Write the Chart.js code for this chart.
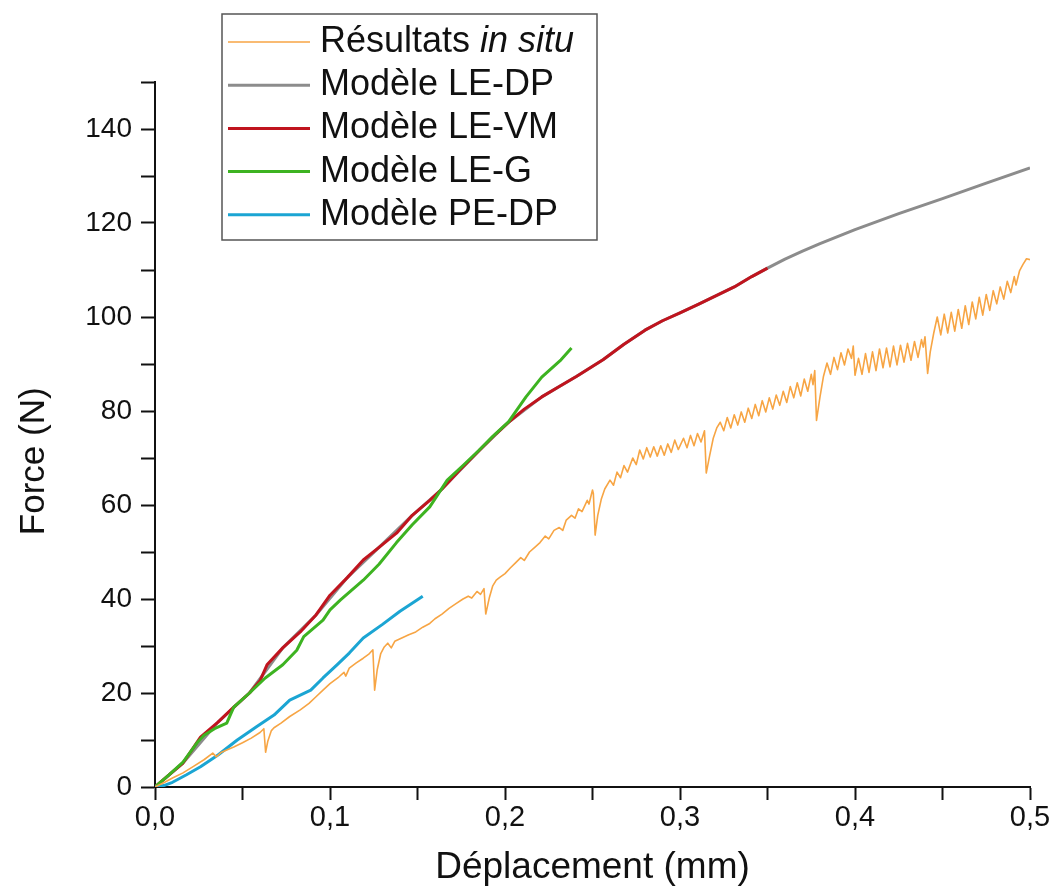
<!DOCTYPE html>
<html>
<head>
<meta charset="utf-8">
<script src="https://cdn.jsdelivr.net/npm/chart.js@4.4.0/dist/chart.umd.min.js"></script>
<style>
  html, body { margin: 0; padding: 0; background: #ffffff; }
  #wrap { width: 1052px; height: 896px; position: relative; }
</style>
</head>
<body>
<div id="wrap"><canvas id="c" width="1052" height="896"></canvas></div>
<script>
// ---------------- Data ----------------
const SERIES_NAMES = ['Résultats in situ', 'Modèle LE-DP', 'Modèle LE-VM', 'Modèle LE-G', 'Modèle PE-DP'];
const SERIES_COLORS = ['#F7A544', '#8C8C8C', '#C0141E', '#3DB321', '#1BA5D3'];

const X_TICK_LABELS = ['0,0', '0,1', '0,2', '0,3', '0,4', '0,5'];
const Y_TICK_LABELS = ['0', '20', '40', '60', '80', '100', '120', '140'];

// Résultats in situ (orange)
const INSITU_X = [0, 0.005, 0.010, 0.016, 0.022, 0.028, 0.033, 0.035, 0.038, 0.045, 0.050, 0.055, 0.060, 0.0622, 0.0632, 0.0645, 0.0665, 0.068, 0.072, 0.077, 0.083, 0.088, 0.092, 0.096, 0.100, 0.105, 0.108, 0.109, 0.111, 0.115, 0.119, 0.122, 0.1245, 0.1255, 0.127, 0.129, 0.131, 0.133, 0.135, 0.137, 0.141, 0.145, 0.149, 0.153, 0.157, 0.160, 0.164, 0.168, 0.172, 0.176, 0.179, 0.181, 0.184, 0.186, 0.188, 0.189, 0.191, 0.193, 0.195, 0.197, 0.200, 0.203, 0.206, 0.209, 0.211, 0.214, 0.217, 0.220, 0.223, 0.225, 0.228, 0.231, 0.233, 0.235, 0.238, 0.240, 0.242, 0.244, 0.247, 0.248, 0.250, 0.2505, 0.2515, 0.253, 0.255, 0.257, 0.260, 0.262, 0.264, 0.266, 0.268, 0.270, 0.273, 0.275, 0.277, 0.279, 0.281, 0.283, 0.285, 0.287, 0.289, 0.291, 0.293, 0.295, 0.297, 0.299, 0.302, 0.304, 0.306, 0.308, 0.310, 0.312, 0.314, 0.315, 0.317, 0.319, 0.321, 0.323, 0.325, 0.327, 0.329, 0.331, 0.333, 0.335, 0.337, 0.339, 0.341, 0.343, 0.345, 0.347, 0.349, 0.351, 0.353, 0.355, 0.357, 0.359, 0.361, 0.363, 0.365, 0.367, 0.369, 0.371, 0.373, 0.375, 0.376, 0.377, 0.378, 0.380, 0.382, 0.384, 0.386, 0.388, 0.390, 0.392, 0.394, 0.396, 0.398, 0.399, 0.400, 0.402, 0.404, 0.406, 0.408, 0.410, 0.412, 0.414, 0.416, 0.418, 0.420, 0.422, 0.424, 0.426, 0.428, 0.430, 0.432, 0.434, 0.436, 0.438, 0.439, 0.440, 0.4415, 0.443, 0.445, 0.447, 0.449, 0.451, 0.453, 0.455, 0.457, 0.459, 0.461, 0.463, 0.465, 0.467, 0.469, 0.471, 0.473, 0.475, 0.477, 0.479, 0.481, 0.483, 0.485, 0.487, 0.489, 0.491, 0.492, 0.494, 0.496, 0.498, 0.500];
const INSITU_Y = [0, 0.9, 1.9, 3.0, 4.4, 5.8, 7.2, 6.4, 7.4, 8.5, 9.4, 10.4, 11.6, 12.4, 7.4, 9.8, 12.0, 12.6, 13.6, 15.0, 16.4, 17.8, 19.2, 20.6, 22.0, 23.4, 24.4, 23.6, 25.3, 26.4, 27.4, 28.2, 29.2, 20.6, 25.0, 28.4, 29.8, 30.6, 29.6, 31.0, 31.7, 32.4, 33.0, 34.0, 34.8, 35.8, 36.8, 38.0, 39.0, 40.0, 40.6, 40.2, 41.6, 41.0, 42.2, 36.8, 40.2, 42.8, 44.0, 44.6, 45.4, 46.6, 47.7, 48.8, 48.2, 50.0, 51.0, 52.0, 53.4, 52.8, 54.6, 55.2, 54.6, 56.8, 57.8, 57.2, 59.2, 58.6, 61.0, 60.2, 63.2, 62.4, 53.6, 57.8, 61.2, 63.4, 65.3, 64.2, 67.0, 65.8, 68.4, 67.0, 70.0, 68.6, 71.7, 69.8, 72.2, 70.2, 72.4, 70.4, 72.6, 70.6, 73.0, 71.2, 73.8, 71.8, 74.2, 72.2, 74.8, 72.6, 75.2, 73.4, 75.8, 66.8, 70.6, 74.2, 76.4, 77.6, 75.8, 78.6, 76.4, 79.2, 77.0, 79.8, 77.6, 80.6, 78.4, 81.4, 79.0, 82.2, 79.8, 82.8, 80.4, 83.4, 81.2, 84.2, 81.8, 85.2, 82.8, 86.0, 83.2, 86.8, 84.2, 87.8, 85.6, 88.6, 78.0, 83.0, 87.4, 90.2, 87.8, 91.4, 88.8, 92.4, 89.8, 93.2, 91.2, 93.8, 87.6, 91.2, 87.8, 92.2, 88.2, 92.6, 88.6, 93.2, 89.2, 93.4, 89.4, 93.8, 89.8, 94.0, 90.4, 94.4, 90.8, 94.8, 91.4, 95.2, 93.6, 95.8, 88.0, 92.6, 96.6, 100.0, 96.2, 100.6, 96.6, 101.0, 97.0, 101.6, 97.6, 102.4, 98.4, 103.2, 99.6, 104.2, 100.4, 104.8, 101.4, 105.6, 102.8, 106.4, 103.8, 107.6, 105.2, 108.6, 106.8, 109.8, 111.2, 112.4, 112.2];

// Modèle LE-DP (grey)
const LEDP_X = [0, 0.016, 0.036, 0.054, 0.073, 0.092, 0.110, 0.128, 0.147, 0.164, 0.185, 0.202, 0.221, 0.241, 0.256, 0.268, 0.280, 0.290, 0.300, 0.311, 0.321, 0.331, 0.341, 0.350, 0.360, 0.370, 0.380, 0.390, 0.400, 0.425, 0.450, 0.475, 0.500];
const LEDP_Y = [0, 5.1, 13.8, 20.0, 29.6, 36.6, 44.6, 51.0, 57.8, 63.4, 71.5, 77.6, 83.0, 87.4, 90.9, 94.2, 97.2, 99.2, 100.9, 102.8, 104.6, 106.4, 108.6, 110.4, 112.3, 114.0, 115.6, 117.1, 118.6, 122.0, 125.2, 128.5, 131.7];

// Modèle LE-VM (red)
const LEVM_X = [0, 0.008, 0.016, 0.026, 0.036, 0.045, 0.054, 0.060, 0.064, 0.073, 0.083, 0.092, 0.100, 0.110, 0.119, 0.128, 0.138, 0.147, 0.157, 0.164, 0.174, 0.185, 0.195, 0.202, 0.211, 0.221, 0.231, 0.241, 0.256, 0.268, 0.280, 0.290, 0.300, 0.311, 0.321, 0.331, 0.341, 0.350];
const LEVM_Y = [0, 2.6, 5.1, 10.6, 13.8, 17.0, 20.0, 22.6, 26.0, 29.6, 33.0, 36.6, 40.8, 44.6, 48.3, 51.0, 54.0, 57.8, 61.0, 63.4, 67.4, 71.5, 75.2, 77.6, 80.4, 83.0, 85.2, 87.4, 90.9, 94.2, 97.2, 99.2, 100.9, 102.8, 104.6, 106.4, 108.6, 110.4];

// Modèle LE-G (green)
const LEG_X = [0, 0.008, 0.016, 0.024, 0.028, 0.034, 0.041, 0.045, 0.054, 0.063, 0.073, 0.081, 0.085, 0.096, 0.100, 0.106, 0.119, 0.128, 0.138, 0.147, 0.157, 0.167, 0.176, 0.185, 0.193, 0.202, 0.212, 0.221, 0.232, 0.238];
const LEG_Y = [0, 2.6, 5.3, 9.4, 11.0, 12.4, 13.6, 17.0, 20.0, 23.2, 26.0, 29.1, 32.0, 35.5, 37.7, 39.8, 44.0, 47.4, 52.0, 55.8, 59.6, 65.3, 68.4, 71.6, 74.6, 77.7, 83.0, 87.2, 90.9, 93.4];

// Modèle PE-DP (blue)
const PEDP_X = [0, 0.005, 0.010, 0.018, 0.026, 0.036, 0.047, 0.058, 0.068, 0.077, 0.089, 0.096, 0.104, 0.111, 0.119, 0.130, 0.140, 0.153];
const PEDP_Y = [0, 0.3, 1.0, 2.6, 4.3, 6.8, 10.0, 12.8, 15.3, 18.5, 20.6, 23.2, 26.0, 28.5, 31.7, 34.6, 37.4, 40.6];

// ---------------- Build chart ----------------
const FONT = "'Liberation Sans', Arial, Helvetica, sans-serif";
const toPts = (xs, ys) => xs.map((x, i) => ({ x: x, y: ys[i] }));

const SERIES = [
  { xs: INSITU_X, ys: INSITU_Y, width: 1.6, order: 0 },
  { xs: LEDP_X,   ys: LEDP_Y,   width: 3,   order: 4 },
  { xs: LEVM_X,   ys: LEVM_Y,   width: 3,   order: 3 },
  { xs: LEG_X,    ys: LEG_Y,    width: 3,   order: 2 },
  { xs: PEDP_X,   ys: PEDP_Y,   width: 3,   order: 1 }
];

const datasets = SERIES.map((s, i) => ({
  label: SERIES_NAMES[i],
  data: toPts(s.xs, s.ys),
  borderColor: SERIES_COLORS[i],
  backgroundColor: SERIES_COLORS[i],
  borderWidth: s.width,
  pointRadius: 0,
  tension: 0,
  borderJoinStyle: 'round',
  fill: false,
  order: s.order
}));

const ITALIC_PART = { 0: 'in situ' };

const legendPlugin = {
  id: 'boxLegend',
  afterDraw(chart) {
    const ctx = chart.ctx;
    const bx = 222, by = 14, bw = 375, bh = 226;
    ctx.save();
    ctx.fillStyle = '#ffffff';
    ctx.fillRect(bx, by, bw, bh);
    ctx.strokeStyle = '#555555';
    ctx.lineWidth = 1.5;
    ctx.strokeRect(bx, by, bw, bh);
    ctx.textBaseline = 'middle';
    ctx.fillStyle = '#111111';
    chart.data.datasets.forEach((ds, i) => {
      const y = 42 + i * 43.2;
      ctx.strokeStyle = ds.borderColor;
      ctx.lineWidth = i === 0 ? 1.6 : 3;
      ctx.beginPath();
      ctx.moveTo(228, y);
      ctx.lineTo(310, y);
      ctx.stroke();
      ctx.font = '36px ' + FONT;
      const it = ITALIC_PART[i];
      if (it && ds.label.endsWith(it)) {
        const normal = ds.label.slice(0, ds.label.length - it.length);
        ctx.fillText(normal, 320, y);
        const w = ctx.measureText(normal).width;
        ctx.font = 'italic 36px ' + FONT;
        ctx.fillText(it, 320 + w, y);
      } else {
        ctx.fillText(ds.label, 320, y);
      }
    });
    ctx.restore();
  }
};

const yTitlePlugin = {
  id: 'yTitle',
  afterDraw(chart) {
    const ctx = chart.ctx;
    const a = chart.chartArea;
    ctx.save();
    ctx.translate(34, a.top + (a.bottom - a.top) * 0.538);
    ctx.rotate(-Math.PI / 2);
    ctx.font = '35px ' + FONT;
    ctx.fillStyle = '#111111';
    ctx.textAlign = 'center';
    ctx.textBaseline = 'middle';
    ctx.fillText('Force (N)', 0, 0);
    ctx.restore();
  }
};

new Chart(document.getElementById('c'), {
  type: 'line',
  data: { datasets: datasets },
  plugins: [legendPlugin, yTitlePlugin],
  options: {
    responsive: false,
    animation: false,
    devicePixelRatio: 1,
    layout: { padding: { top: 82, right: 22, left: 0, bottom: 0 } },
    plugins: { legend: { display: false }, tooltip: { enabled: false } },
    scales: {
      x: {
        type: 'linear',
        min: 0, max: 0.5,
        afterFit(scale) { scale.height = 109; },
        border: { display: true, color: '#111111', width: 2 },
        grid: { drawOnChartArea: false, drawTicks: true, tickLength: 13, tickWidth: 2, tickColor: '#111111' },
        ticks: {
          stepSize: 0.05,
          autoSkip: false,
          maxRotation: 0,
          padding: 1,
          color: '#111111',
          font: { family: FONT, size: 29 },
          callback(v) {
            const k = Math.round(v * 10);
            if (Math.abs(v * 10 - k) > 1e-6) return '';
            return X_TICK_LABELS[k] !== undefined ? X_TICK_LABELS[k] : '';
          }
        },
        title: {
          display: true,
          text: 'Déplacement (mm)',
          color: '#111111',
          font: { family: FONT, size: 37 },
          padding: { top: 0, bottom: 6 }
        }
      },
      y: {
        type: 'linear',
        min: 0, max: 150,
        afterFit(scale) { scale.width = 155; },
        border: { display: true, color: '#111111', width: 2 },
        grid: { drawOnChartArea: false, drawTicks: true, tickLength: 14, tickWidth: 2, tickColor: '#111111' },
        ticks: {
          stepSize: 10,
          autoSkip: false,
          padding: 9,
          color: '#111111',
          font: { family: FONT, size: 28 },
          callback(v) {
            const k = Math.round(v / 20);
            if (Math.abs(v / 20 - k) > 1e-6) return '';
            return Y_TICK_LABELS[k] !== undefined ? Y_TICK_LABELS[k] : '';
          }
        }
      }
    }
  }
});
</script>
</body>
</html>
